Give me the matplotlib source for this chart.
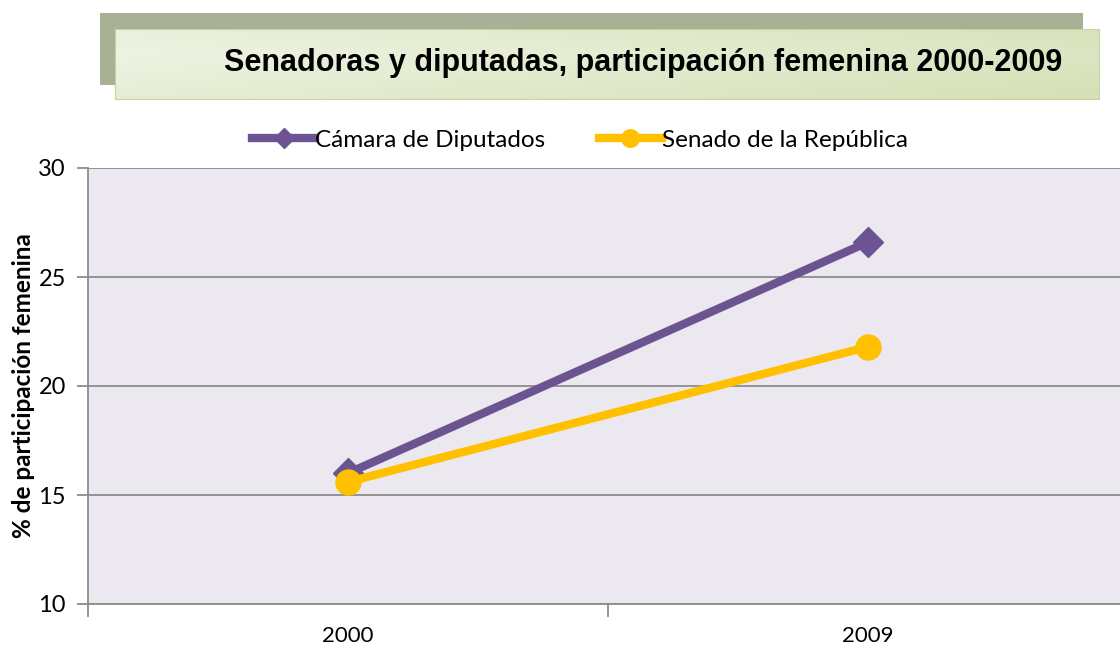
import numpy as np
import matplotlib
matplotlib.use("Agg")
import matplotlib.pyplot as plt
from matplotlib.patches import Rectangle

years = ["2000", "2009"]
diputados = [16.0, 26.6]
senado = [15.6, 21.8]
series_names = ["Cámara de Diputados", "Senado de la República"]
yticks = [10, 15, 20, 25, 30]

plt.rcParams['font.family'] = ['Lato', 'DejaVu Sans']

fig = plt.figure(figsize=(11.2, 6.49), dpi=100)
W, H = 1120, 649

# title boxes (shadow + gradient box)
def box(x0, y0, x1, y1):
    return [x0 / W, 1 - y1 / H, (x1 - x0) / W, (y1 - y0) / H]

shadow = fig.add_axes(box(100, 13, 1083, 85))
shadow.set_axis_off()
shadow.add_patch(Rectangle((0, 0), 1, 1, color="#A8B096", transform=shadow.transAxes))

tb = fig.add_axes(box(115, 29, 1100, 100))
tb.set_axis_off()
gx = np.linspace(0, 1, 300)
gy = np.linspace(0, 1, 60)
GX, GY = np.meshgrid(gx, gy)
t = np.clip(0.55 * GX + 0.35 * np.abs(GY - 0.65), 0, 1)
c0 = np.array([0xEE, 0xF3, 0xE2]) / 255
c1 = np.array([0xCC, 0xDB, 0xA8]) / 255
img = c0[None, None, :] * (1 - t[..., None]) + c1[None, None, :] * t[..., None]
tb.imshow(img, extent=[0, 1, 0, 1], aspect="auto", origin="lower")
tb.add_patch(Rectangle((0, 0), 1, 1, fill=False, ec="#C4D49C", lw=1.5, transform=tb.transAxes))
tb.set_xlim(0, 1)
tb.set_ylim(0, 1)
fig.text(643 / W, 1 - 63 / H, "Senadoras y diputadas, participación femenina 2000-2009",
         ha="center", va="center", fontsize=22, fontweight="bold",
         family=["Liberation Sans", "DejaVu Sans"])

# main plot
ax = fig.add_axes([88 / W, 45 / H, 1040 / W, 436 / H])
ax.set_facecolor("#EBE9EF")
x = np.arange(len(years))
ax.plot(x, diputados, color="#6B5491", lw=6, marker="D", ms=15, label=series_names[0], zorder=3)
ax.plot(x, senado, color="#FFC000", lw=6, marker="o", ms=18, label=series_names[1], zorder=4)
ax.set_xlim(-0.5, 1.5)
ax.set_ylim(10, 30)
ax.set_yticks(yticks)
ax.set_yticklabels([str(v) for v in yticks], fontsize=17)
ax.yaxis.grid(True, color="#8C8C8C", lw=1.3)
ax.set_axisbelow(True)
ax.set_xticks(x)
ax.set_xticklabels(years, fontsize=16)
ax.tick_params(axis="x", length=0, pad=16)
ax.set_xticks([-0.5, 0.5, 1.5], minor=True)
ax.tick_params(axis="x", which="minor", length=9, color="#8C8C8C", width=1.3)
ax.tick_params(axis="y", length=8, color="#8C8C8C", width=1.3, pad=8)
for s in ["top", "right"]:
    ax.spines[s].set_visible(False)
ax.spines["left"].set_color("#8C8C8C")
ax.spines["left"].set_linewidth(1.3)
ax.spines["bottom"].set_color("#8C8C8C")
ax.spines["bottom"].set_linewidth(1.3)
ax.set_ylabel("% de participación femenina", fontsize=17.5, fontweight="bold", labelpad=2)

leg = ax.legend(loc="center", bbox_to_anchor=((580 - 88) / 1040, (604 - 140) / 436),
                ncol=2, frameon=False, fontsize=17.5, handlelength=2.6, handletextpad=0.0,
                columnspacing=2.2, markerscale=0.7)

fig.savefig("out.png", dpi=100)
